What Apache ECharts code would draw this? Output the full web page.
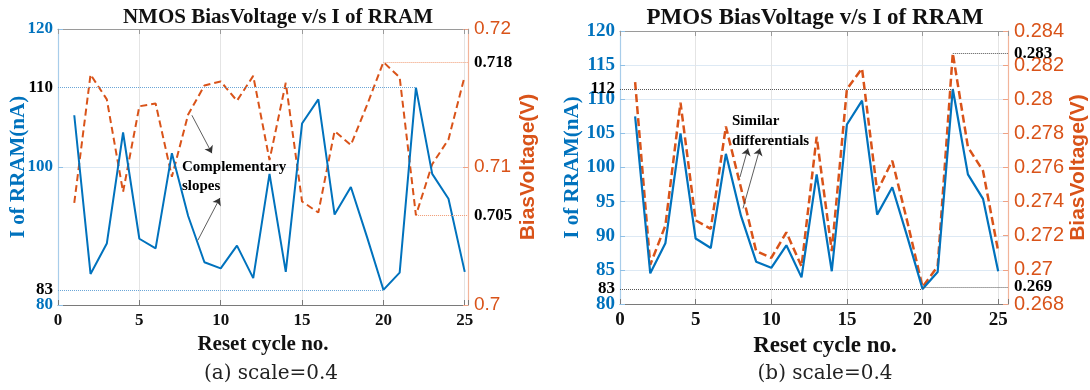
<!DOCTYPE html>
<html>
<head>
<meta charset="utf-8">
<script src="https://cdn.jsdelivr.net/npm/echarts@6/dist/echarts.min.js"></script>
<style>
  html, body { margin: 0; background: #fff; }
  #main { width: 1090px; height: 390px; }
</style>
</head>
<body>
<div id="main"></div>
<script>
// data
const cycles = [1, 2, 3, 4, 5, 6, 7, 8, 9, 10, 11, 12, 13, 14, 15, 16, 17, 18, 19, 20, 21, 22, 23, 24, 25];
// I of RRAM (nA) - same curve in both panels
const currentNA = [107.5, 84.5, 88.9, 105.0, 89.6, 88.2, 102.0, 92.9, 86.2, 85.3, 88.6, 83.9, 99.0, 84.8, 106.3,
  109.8, 93.1, 97.1, 89.8, 82.2, 84.7, 111.5, 99.0, 95.4, 84.8];
const nmosBias = [0.7074, 0.7167, 0.7149, 0.7082, 0.7144, 0.7146, 0.7093, 0.7138, 0.7159, 0.7162, 0.7148, 0.7166,
  0.7105, 0.7161, 0.7075, 0.7067, 0.7126, 0.7116, 0.7145, 0.7176, 0.7165, 0.7065, 0.7102, 0.7120, 0.7166];
const pmosBias = [0.2810, 0.2703, 0.2726, 0.2798, 0.2729, 0.2724, 0.2784, 0.2748, 0.2711, 0.2707, 0.2722, 0.2702,
  0.2778, 0.2711, 0.2806, 0.2818, 0.2746, 0.2764, 0.2728, 0.2690, 0.2702, 0.2827, 0.2772, 0.2758, 0.2711];

const xTicks = [0, 5, 10, 15, 20, 25];
const nmosITicks = [80, 100, 120];
const nmosVTicks = [0.70, 0.71, 0.72];
const pmosITicks = [80, 85, 90, 95, 100, 105, 110, 115, 120];
const pmosVTicks = [0.268, 0.270, 0.272, 0.274, 0.276, 0.278, 0.280, 0.282, 0.284];

// dotted reference lines: cycle where the value is taken, and the printed label
const nmosIRefs = [{ cycle: 22, label: '110' }, { cycle: 20, label: '83' }];
const nmosVRefs = [{ cycle: 20, label: '0.718' }, { cycle: 22, label: '0.705' }];
const pmosIRefs = [{ cycle: 22, label: '112' }, { cycle: 20, label: '83' }];
const pmosVRefs = [{ cycle: 22, label: '0.283' }, { cycle: 20, label: '0.269' }];

// annotation arrows (start on curve -> end at the text), in data units of the I axis
const nmosArrows = [[[8.23, 107.5], [9.46, 102.0]], [[8.6, 89.4], [9.95, 95.5]]];
const pmosArrows = [[[7.93, 98.6], [8.46, 102.8]], [[8.13, 94.0], [9.25, 102.8]]];

const BLUE = '#0072BD';
const ORANGE = '#D95319';
const SERIF = '"Liberation Serif", "Times New Roman", serif';
const SANS = '"Liberation Sans", Arial, sans-serif';
const X_MAX = [25.2, 25.65];

const pairs = (ys) => cycles.map((c, i) => [c, ys[i]]);

function xAxes(grid, fontSize, nameSize, namePad) {
  return [{
    gridIndex: grid, type: 'value', min: xTicks[0], max: X_MAX[grid], interval: xTicks[1] - xTicks[0],
    axisLine: { onZero: false, lineStyle: { color: '#7a7a7a', width: 1 } },
    axisTick: { inside: true, length: 5, lineStyle: { color: '#7a7a7a' } },
    axisLabel: {
      color: '#111', fontFamily: SERIF, fontWeight: 'bold', fontSize: fontSize, margin: 7,
      formatter: v => xTicks.includes(v) ? String(v) : ''
    },
    splitLine: { show: true, lineStyle: { color: '#e4e4e4', width: 1 } },
    name: 'Reset cycle no.', nameLocation: 'middle', nameGap: 20,
    nameTextStyle: { color: '#111', fontFamily: SERIF, fontWeight: 'bold', fontSize: nameSize, padding: namePad }
  }, {
    gridIndex: grid, type: 'value', position: 'top', min: xTicks[0], max: X_MAX[grid], interval: xTicks[1] - xTicks[0],
    axisLine: { onZero: false, lineStyle: { color: '#9a9a9a', width: 1 } },
    axisTick: { inside: true, length: 5, lineStyle: { color: '#9a9a9a' } },
    axisLabel: { show: false }, splitLine: { show: false }
  }];
}

function yAxes(grid, iTicks, vTicks, iFont, vFont, gaps, moveName) {
  return [{
    gridIndex: grid, type: 'value', position: 'left',
    min: iTicks[0], max: iTicks[iTicks.length - 1], interval: iTicks[1] - iTicks[0],
    axisLine: { show: true, onZero: false, lineStyle: { color: '#a8cdea', width: 1.2 } },
    axisTick: { show: true, inside: true, length: 5, lineStyle: { color: '#8fc0e6' } },
    axisLabel: { color: BLUE, fontFamily: SERIF, fontWeight: 'bold', fontSize: iFont, margin: 5 },
    splitLine: { show: true, lineStyle: { color: '#dde9f4', width: 1 } },
    name: 'I of RRAM(nA)', nameLocation: 'middle', nameGap: gaps[0], nameMoveOverlap: moveName,
    nameTextStyle: { color: BLUE, fontFamily: SERIF, fontWeight: 'bold', fontSize: 21 }
  }, {
    gridIndex: grid, type: 'value', position: 'right',
    min: vTicks[0], max: vTicks[vTicks.length - 1], interval: +(vTicks[1] - vTicks[0]).toFixed(4),
    axisLine: { show: true, onZero: false, lineStyle: { color: '#f2b49a', width: 1.2 } },
    axisTick: { show: true, inside: true, length: 5, lineStyle: { color: '#eea285' } },
    axisLabel: { color: ORANGE, fontFamily: SANS, fontSize: vFont, margin: 6, formatter: v => String(+v.toFixed(3)) },
    splitLine: { show: false },
    name: 'BiasVoltage(V)', nameLocation: 'middle', nameGap: gaps[1],
    nameTextStyle: { color: ORANGE, fontFamily: SANS, fontWeight: 'bold', fontSize: 21 }
  }];
}

const refLabel = { color: '#000', fontFamily: SERIF, fontWeight: 'bold', fontSize: 17, formatter: '{b}' };

function iRefLines(refs, color) {
  return {
    silent: true, symbol: 'none',
    lineStyle: { color: color, type: 'dotted', width: 1 },
    label: Object.assign({ position: 'start', distance: 5 }, refLabel),
    data: refs.map(r => {
      const v = currentNA[r.cycle - 1];
      return [{ name: r.label, coord: [0, v] }, { coord: [r.cycle, v] }];
    })
  };
}

function vRefLines(refs, values, grid, color) {
  return {
    silent: true, symbol: 'none',
    lineStyle: { color: color, type: 'dotted', width: 1 },
    label: Object.assign({ position: 'end', distance: 6 }, refLabel),
    data: refs.map(r => {
      const v = values[r.cycle - 1];
      return [{ name: r.label, coord: [r.cycle, v] }, { coord: [X_MAX[grid], v] }];
    })
  };
}

function arrowSeries(arrows, xi, yi) {
  return {
    type: 'line', data: [], xAxisIndex: xi, yAxisIndex: yi, silent: true,
    markLine: {
      silent: true, symbol: ['none', 'arrow'], symbolSize: 7,
      lineStyle: { color: '#333', type: 'solid', width: 0.8 },
      label: { show: false },
      data: arrows.map(a => [{ coord: a[0] }, { coord: a[1] }])
    }
  };
}

const chart = echarts.init(document.getElementById('main'), null, { renderer: 'canvas' });

const noteStyle = (text, lh) => ({
  text: text, font: 'bold 15px ' + SERIF, lineHeight: lh, fill: '#000',
  align: 'left', verticalAlign: 'top'
});

chart.setOption({
  animation: false,
  backgroundColor: '#fff',
  grid: [
    { left: 58, right: 622, top: 29, bottom: 85 },
    { left: 620, right: 82, top: 31, bottom: 86 }
  ],
  xAxis: [].concat(xAxes(0, 17, 21, [0, 0, 0, 0]), xAxes(1, 19, 23, [0, 0, 0, 22])),
  yAxis: [].concat(
    yAxes(0, nmosITicks, nmosVTicks, 17, 19, [29, 50], false),
    yAxes(1, pmosITicks, pmosVTicks, 19, 20, [36, 58], true)
  ),
  series: [
    {
      type: 'line', xAxisIndex: 0, yAxisIndex: 0, data: pairs(currentNA), symbol: 'none', silent: true,
      lineStyle: { color: BLUE, width: 2 }, z: 3,
      markLine: iRefLines(nmosIRefs, '#6aa6d8')
    },
    {
      type: 'line', xAxisIndex: 0, yAxisIndex: 1, data: pairs(nmosBias), symbol: 'none', silent: true,
      lineStyle: { color: ORANGE, width: 2, type: [7, 4] }, z: 2,
      markLine: vRefLines(nmosVRefs, nmosBias, 0, '#f09a72')
    },
    arrowSeries(nmosArrows, 0, 0),
    {
      type: 'line', xAxisIndex: 2, yAxisIndex: 2, data: pairs(currentNA), symbol: 'none', silent: true,
      lineStyle: { color: BLUE, width: 2.2 }, z: 3,
      markLine: iRefLines(pmosIRefs, '#555')
    },
    {
      type: 'line', xAxisIndex: 2, yAxisIndex: 3, data: pairs(pmosBias), symbol: 'none', silent: true,
      lineStyle: { color: ORANGE, width: 2.5, type: [8, 4] }, z: 2,
      markLine: vRefLines(pmosVRefs, pmosBias, 1, '#555')
    },
    arrowSeries(pmosArrows, 2, 2)
  ],
  graphic: [
    { type: 'text', x: 278, y: 18, style: { text: 'NMOS BiasVoltage v/s I of RRAM', font: 'bold 21px ' + SERIF, fill: '#111', align: 'center', verticalAlign: 'middle' } },
    { type: 'text', x: 815, y: 18, style: { text: 'PMOS BiasVoltage v/s I of RRAM', font: 'bold 23px ' + SERIF, fill: '#111', align: 'center', verticalAlign: 'middle' } },
    { type: 'text', x: 182, y: 158, z: 10, style: noteStyle('Complementary\nslopes', 19) },
    { type: 'text', x: 732, y: 111, z: 10, style: noteStyle('Similar\ndifferentials', 20) },
    { type: 'text', x: 271, y: 374, style: { text: '(a) scale=0.4', font: '20px "DejaVu Serif", serif', fill: '#222', align: 'center', verticalAlign: 'middle' } },
    { type: 'text', x: 825, y: 374, style: { text: '(b) scale=0.4', font: '20px "DejaVu Serif", serif', fill: '#222', align: 'center', verticalAlign: 'middle' } }
  ]
});
</script>
</body>
</html>
